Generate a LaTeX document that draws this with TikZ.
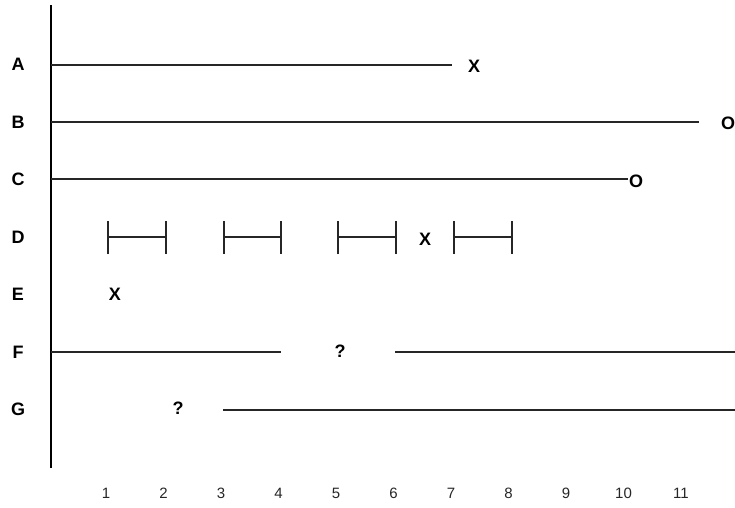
\documentclass[tikz,border=0pt]{standalone}
\usepackage{fontspec}
\setmainfont{Liberation Sans}
\begin{document}
\begin{tikzpicture}[x=1pt,y=-1pt,
  lbl/.style={font=\fontsize{18}{18}\selectfont\bfseries, inner sep=0pt},
  num/.style={font=\fontsize{15}{15}\selectfont, inner sep=0pt, text=black!85},
  hline/.style={line width=1.4pt, black!85},
  axisline/.style={line width=2.8pt},
  tickbar/.style={line width=1.4pt, black!85}]
\useasboundingbox (0,0) rectangle (735,507);
% axis
\coordinate (top) at (51,5);
\coordinate (bot) at (51,468);
\draw[axisline] (top) -- (bot);
% row labels
\foreach \n/\y in {A/64,B/122,C/179,D/237,E/294,F/352,G/409}
  \node[lbl] (row\n) at (18,\y) {\n};
% axis numbers
\foreach \i in {1,...,11}
  \node[num] (n\i) at ({48.5+57.5*\i},493) {\i};
% A
\coordinate (a0) at (51,65);
\coordinate (a1) at (452,65);
\draw[hline] (a0) -- (a1);
\node[lbl] (ax) at (474,66) {X};
% B
\coordinate (b0) at (51,122);
\coordinate (b1) at (699,122);
\draw[hline] (b0) -- (b1);
\node[lbl] (bo) at (728,123) {O};
% C
\coordinate (c0) at (51,179);
\coordinate (c1) at (628,179);
\draw[hline] (c0) -- (c1);
\node[lbl] (co) at (636,181) {O};
% D intervals
\foreach \s/\e [count=\k] in {108/166,224/281,338/396,454/512}{
  \coordinate (d\k s) at (\s,237);
  \coordinate (d\k e) at (\e,237);
  \draw[tickbar] (d\k s) -- (d\k e);
  \draw[tickbar] ([yshift=-17pt]d\k s) -- ([yshift=16pt]d\k s);
  \draw[tickbar] ([yshift=-17pt]d\k e) -- ([yshift=16pt]d\k e);
}
\node[lbl] (dx) at (425,239) {X};
% E
\node[lbl] (ex) at (115,294) {X};
% F
\coordinate (f0) at (51,352);
\coordinate (f1) at (281,352);
\coordinate (f2) at (395,352);
\coordinate (f3) at (735,352);
\draw[hline] (f0) -- (f1);
\draw[hline] (f2) -- (f3);
\node[lbl] (fq) at (340,351) {?};
% G
\coordinate (g0) at (223,410);
\coordinate (g1) at (735,410);
\draw[hline] (g0) -- (g1);
\node[lbl] (gq) at (178,408) {?};
\end{tikzpicture}
\end{document}
